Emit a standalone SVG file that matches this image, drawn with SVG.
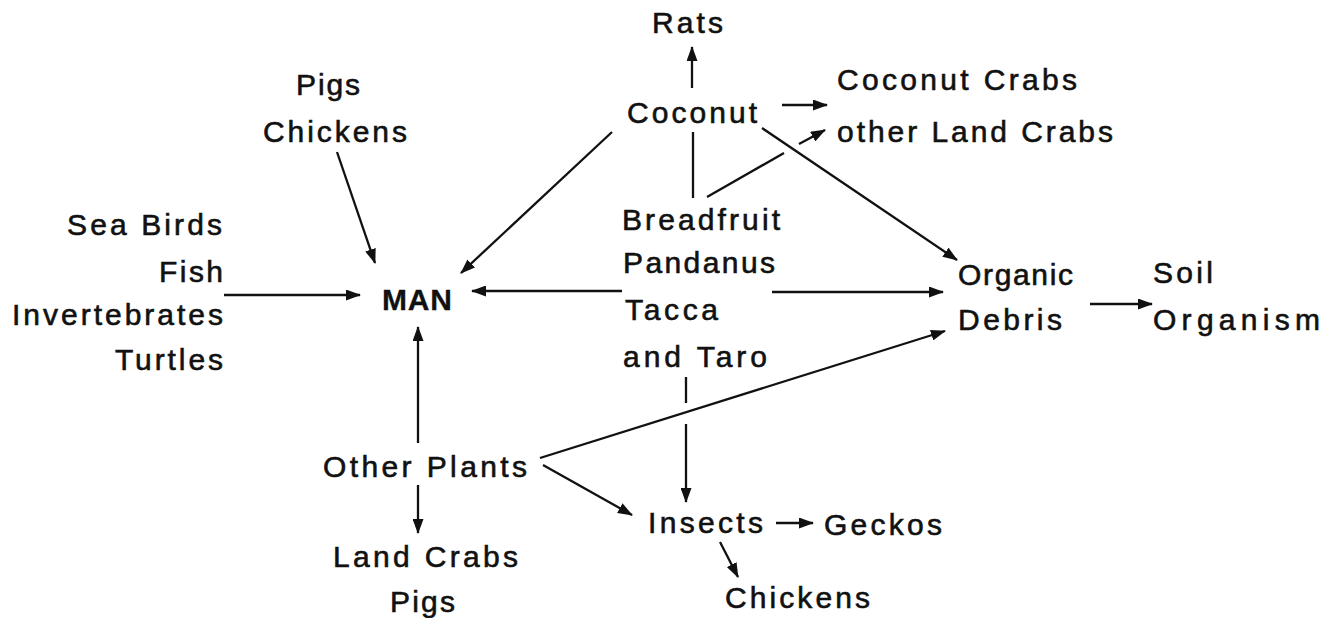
<svg xmlns="http://www.w3.org/2000/svg" width="1328" height="618" viewBox="0 0 1328 618">
<style>
text{font-family:"Liberation Sans",Arial,sans-serif;font-size:30px;fill:#111;stroke:#111;stroke-width:0.6}
.b{font-weight:bold;stroke-width:0.3}
.c line{stroke:#111;stroke-width:2.3;fill:none}
.a{marker-end:url(#ah)}
</style>
<defs>
<marker id="ah" markerUnits="userSpaceOnUse" markerWidth="15" markerHeight="11" refX="14" refY="5.5" orient="auto">
<path d="M0,0 L15,5.5 L0,11 Z" fill="#111"/>
</marker>
</defs>
<rect width="1328" height="618" fill="#fff"/>
<g id="rats"><text x="652" y="33" textLength="71" lengthAdjust="spacing">Rats</text></g>
<g id="coconut"><text x="627" y="123" textLength="130" lengthAdjust="spacing">Coconut</text></g>
<g id="crabs">
<text x="837" y="90" textLength="240" lengthAdjust="spacing">Coconut Crabs</text>
<text x="837" y="142" textLength="276" lengthAdjust="spacing">other Land Crabs</text>
</g>
<g id="pigs-chickens">
<text x="296" y="95" textLength="64" lengthAdjust="spacing">Pigs</text>
<text x="263" y="142" textLength="144" lengthAdjust="spacing">Chickens</text>
</g>
<g id="sea">
<text x="67" y="235" textLength="155" lengthAdjust="spacing">Sea Birds</text>
<text x="159" y="282" textLength="64" lengthAdjust="spacing">Fish</text>
<text x="12" y="325" textLength="211" lengthAdjust="spacing">Invertebrates</text>
<text x="115" y="370" textLength="108" lengthAdjust="spacing">Turtles</text>
</g>
<g id="man"><text class="b" x="382" y="310" textLength="70" lengthAdjust="spacing">MAN</text></g>
<g id="crops">
<text x="622" y="230" textLength="158" lengthAdjust="spacing">Breadfruit</text>
<text x="623" y="273" textLength="152" lengthAdjust="spacing">Pandanus</text>
<text x="625" y="320" textLength="93" lengthAdjust="spacing">Tacca</text>
<text x="623" y="367" textLength="144" lengthAdjust="spacing">and Taro</text>
</g>
<g id="debris">
<text x="958" y="285" textLength="115" lengthAdjust="spacing">Organic</text>
<text x="958" y="330" textLength="104" lengthAdjust="spacing">Debris</text>
</g>
<g id="soil">
<text x="1153" y="283" textLength="60" lengthAdjust="spacing">Soil</text>
<text x="1153" y="330" textLength="167" lengthAdjust="spacing">Organism</text>
</g>
<g id="other-plants"><text x="323" y="477" textLength="204" lengthAdjust="spacing">Other Plants</text></g>
<g id="landcrabs-pigs">
<text x="333" y="567" textLength="185" lengthAdjust="spacing">Land Crabs</text>
<text x="390" y="612" textLength="65" lengthAdjust="spacing">Pigs</text>
</g>
<g id="insects"><text x="648" y="533" textLength="115" lengthAdjust="spacing">Insects</text></g>
<g id="geckos"><text x="824" y="535" textLength="118" lengthAdjust="spacing">Geckos</text></g>
<g id="chickens2"><text x="725" y="608" textLength="145" lengthAdjust="spacing">Chickens</text></g>
<g id="connectors" class="c">
<line class="a" x1="692" y1="88" x2="692" y2="47"/>
<line x1="693" y1="132" x2="693" y2="198"/>
<line class="a" x1="782" y1="105" x2="827" y2="105"/>
<line x1="707" y1="197" x2="784" y2="153"/>
<line class="a" x1="799" y1="144" x2="825" y2="130"/>
<line class="a" x1="762" y1="128" x2="957" y2="260"/>
<line class="a" x1="612" y1="132" x2="461" y2="273"/>
<line class="a" x1="337" y1="152" x2="375" y2="263"/>
<line class="a" x1="224" y1="295" x2="360" y2="295"/>
<line class="a" x1="622" y1="291" x2="472" y2="291"/>
<line class="a" x1="772" y1="292" x2="943" y2="292"/>
<line class="a" x1="1090" y1="304" x2="1152" y2="304"/>
<line class="a" x1="418" y1="443" x2="418" y2="327"/>
<line class="a" x1="418" y1="485" x2="418" y2="533"/>
<line class="a" x1="540" y1="458" x2="945" y2="331"/>
<line class="a" x1="543" y1="465" x2="632" y2="515"/>
<line x1="686" y1="377" x2="686" y2="403"/>
<line class="a" x1="686" y1="424" x2="686" y2="502"/>
<line class="a" x1="776" y1="523" x2="813" y2="523"/>
<line class="a" x1="720" y1="542" x2="738" y2="577"/>
</g>
</svg>
